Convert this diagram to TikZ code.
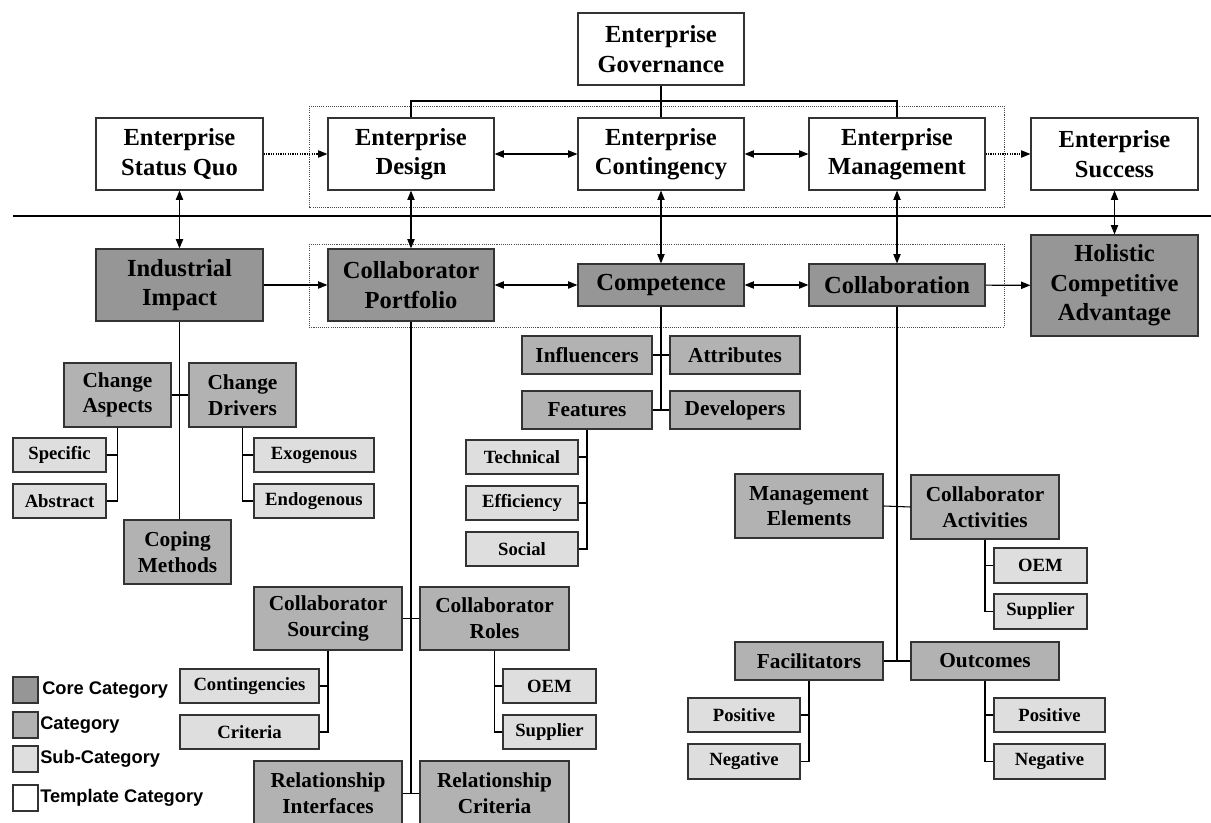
\documentclass[tikz,border=0pt]{standalone}
\usepackage{fontspec}
\setmainfont{Liberation Serif}
\newfontfamily\legfont{Liberation Sans}
\usetikzlibrary{arrows.meta}
\definecolor{coreg}{gray}{0.59}
\definecolor{catg}{gray}{0.70}
\definecolor{subg}{gray}{0.87}
\newcommand\fcore{\bfseries\fontsize{18.4}{22}\selectfont}
\newcommand\fcat{\bfseries\fontsize{16}{19.3}\selectfont}
\newcommand\fsub{\bfseries\fontsize{14}{16}\selectfont}
\newcommand\flegend{\legfont\bfseries\fontsize{13.7}{16}\selectfont}
\newcommand\mybox[7]{\node[#6, minimum width={(#4-#2)*0.75pt}, minimum height={(#5-#3)*0.75pt}] (#1) at ({(#2+#4)/2},{(#3+#5)/2}) {#7};}
\tikzset{
  basebox/.style={draw=black!80, line width=0.9pt, inner sep=0pt, align=center},
  tmpl/.style={basebox, fill=white, font=\fcore},
  core/.style={basebox, fill=coreg, font=\fcore},
  cat/.style={basebox, fill=catg, font=\fcat},
  sub/.style={basebox, fill=subg, font=\fsub},
  link/.style={draw=black, line width=0.8pt},
  ar/.style={link, -{Triangle[length=7pt,width=5.5pt]}},
  dar/.style={link, {Triangle[length=7pt,width=5.5pt]}-{Triangle[length=7pt,width=5.5pt]}},
  dotar/.style={link, line width=0.8pt, dash pattern=on 0.9pt off 0.9pt, -{Triangle[length=7pt,width=5.5pt]}},
  grp/.style={draw=black!70, line width=0.6pt, dash pattern=on 0.8pt off 0.8pt},
  legtext/.style={anchor=west, inner sep=0pt, font=\flegend}
}
\begin{document}
\begin{tikzpicture}[x=0.75pt, y=-0.75pt]
\useasboundingbox (0,0) rectangle (1211,823);
% group frames and separator
\draw[grp] (309,106) rectangle (1004,207);
\draw[grp] (309,244) rectangle (1004,327);
\draw[line width=0.8pt] (13,216) -- (1211,216);
% template row
\mybox{gov}{578}{13}{744}{85}{tmpl}{Enterprise\\Governance}
\mybox{sq}{96}{118}{263}{190}{tmpl}{Enterprise\\Status Quo}
\mybox{des}{328}{118}{494}{190}{tmpl}{Enterprise\\Design}
\mybox{con}{578}{118}{744}{190}{tmpl}{Enterprise\\Contingency}
\mybox{man}{809}{118}{985}{190}{tmpl}{Enterprise\\Management}
\mybox{suc}{1031}{118}{1198}{190}{tmpl}{Enterprise\\Success}
% core row
\mybox{ii}{96}{249}{263}{321}{core}{Industrial\\Impact}
\mybox{cp}{328}{249}{494}{321}{core}{Collaborator\\Portfolio}
\mybox{comp}{578}{264}{744}{306}{core}{Competence}
\mybox{col}{809}{264}{985}{306}{core}{Collaboration}
\mybox{hol}{1031}{235}{1198}{336}{core}{Holistic\\Competitive\\Advantage}
% industrial impact branch
\mybox{ca}{64}{363}{171}{427}{cat}{Change\\Aspects}
\mybox{cd}{189}{363}{296}{427}{cat}{Change\\Drivers}
\mybox{spe}{13}{438}{106}{472}{sub}{Specific}
\mybox{abs}{13}{484}{106}{518}{sub}{Abstract}
\mybox{exo}{254}{438}{374}{472}{sub}{Exogenous}
\mybox{endo}{254}{484}{374}{518}{sub}{Endogenous}
\mybox{cop}{124}{520}{231}{584}{cat}{Coping\\Methods}
% competence branch
\mybox{inf}{522}{336}{652}{374}{cat}{Influencers}
\mybox{att}{670}{336}{800}{374}{cat}{Attributes}
\mybox{fea}{522}{391}{652}{429}{cat}{Features}
\mybox{dev}{670}{391}{800}{429}{cat}{Developers}
\mybox{tec}{466}{440}{578}{474}{sub}{Technical}
\mybox{eff}{466}{486}{578}{520}{sub}{Efficiency}
\mybox{soc}{466}{532}{578}{566}{sub}{Social}
% portfolio branch
\mybox{cs}{254}{587}{402}{650}{cat}{Collaborator\\Sourcing}
\mybox{cr}{420}{587}{569}{650}{cat}{Collaborator\\Roles}
\mybox{cnt}{180}{669}{319}{703}{sub}{Contingencies}
\mybox{cri}{180}{715}{319}{749}{sub}{Criteria}
\mybox{oema}{503}{669}{596}{703}{sub}{OEM}
\mybox{supa}{503}{715}{596}{749}{sub}{Supplier}
\mybox{ri}{254}{761}{402}{826}{cat}{Relationship\\Interfaces}
\mybox{rc}{420}{761}{569}{826}{cat}{Relationship\\Criteria}
% collaboration branch
\mybox{me}{735}{474}{883}{538}{cat}{Management\\Elements}
\mybox{act}{911}{475}{1059}{539}{cat}{Collaborator\\Activities}
\mybox{oemb}{994}{548}{1087}{583}{sub}{OEM}
\mybox{supb}{994}{594}{1087}{629}{sub}{Supplier}
\mybox{fac}{735}{642}{883}{680}{cat}{Facilitators}
\mybox{out}{911}{642}{1059}{680}{cat}{Outcomes}
\mybox{posa}{688}{698}{800}{732}{sub}{Positive}
\mybox{nega}{688}{744}{800}{779}{sub}{Negative}
\mybox{posb}{994}{698}{1105}{732}{sub}{Positive}
\mybox{negb}{994}{744}{1105}{779}{sub}{Negative}
% legend
\mybox{lcore}{13}{677}{38}{703}{core}{}
\mybox{lcat}{13}{712}{38}{738}{cat}{}
\mybox{lsub}{13}{746}{38}{772}{sub}{}
\mybox{ltmp}{13}{785}{38}{811}{tmpl}{}
\node[legtext] (tcore) at (42,690) {Core Category};
\node[legtext] (tcat) at (40,725) {Category};
\node[legtext] (tsub) at (40,759) {Sub-Category};
\node[legtext] (ttmp) at (40,798) {Template Category};
% horizontal flow
\draw[dotar] (sq) -- (des);
\draw[dar] (des) -- (con);
\draw[dar] (con) -- (man);
\draw[dotar] (man) -- (suc);
\draw[ar] (ii) -- (cp);
\draw[dar] (cp) -- (comp);
\draw[dar] (comp) -- (col);
\draw[ar] (col) -- (hol);
% vertical links
\draw[dar] (sq) -- (ii);
\draw[dar] (des) -- (cp);
\draw[dar] (con) -- (comp);
\draw[dar] (man) -- (col);
\draw[dar] (suc) -- (hol);
% governance tree
\coordinate (gl) at (661,101);
\draw[link] (gov.south) -- (con.north);
\draw[link] (des.north) -- (des.north |- gl) -- (man.north |- gl) -- (man.north);
% industrial impact tree
\draw[link] (ii.south) -- (ii.south |- cop.north);
\draw[link] (ca.east) -- (cd.west);
\draw[link] (ca.south) |- (spe.east);
\draw[link] (ca.south) |- (abs.east);
\draw[link] (cd.south) |- (exo.west);
\draw[link] (cd.south) |- (endo.west);
% competence tree
\draw[link] (comp.south) -- (comp.south |- fea.east);
\draw[link] (inf.east) -- (att.west);
\draw[link] (fea.east) -- (dev.west);
\draw[link] (fea.south) |- (tec.east);
\draw[link] (fea.south) |- (eff.east);
\draw[link] (fea.south) |- (soc.east);
% portfolio tree
\draw[link] (cp.south) -- (cp.south |- ri.east);
\draw[link] (cs.east) -- (cr.west);
\draw[link] (ri.east) -- (rc.west);
\draw[link] (cs.south) |- (cnt.east);
\draw[link] (cs.south) |- (cri.east);
\draw[link] (cr.south) |- (oema.west);
\draw[link] (cr.south) |- (supa.west);
% collaboration tree
\draw[link] (col.south) -- (col.south |- out.west);
\draw[link] (me.east) -- (act.west);
\draw[link] (fac.east) -- (out.west);
\draw[link] (act.south) |- (oemb.west);
\draw[link] (act.south) |- (supb.west);
\draw[link] (fac.south) |- (posa.east);
\draw[link] (fac.south) |- (nega.east);
\draw[link] (out.south) |- (posb.west);
\draw[link] (out.south) |- (negb.west);
\end{tikzpicture}
\end{document}
